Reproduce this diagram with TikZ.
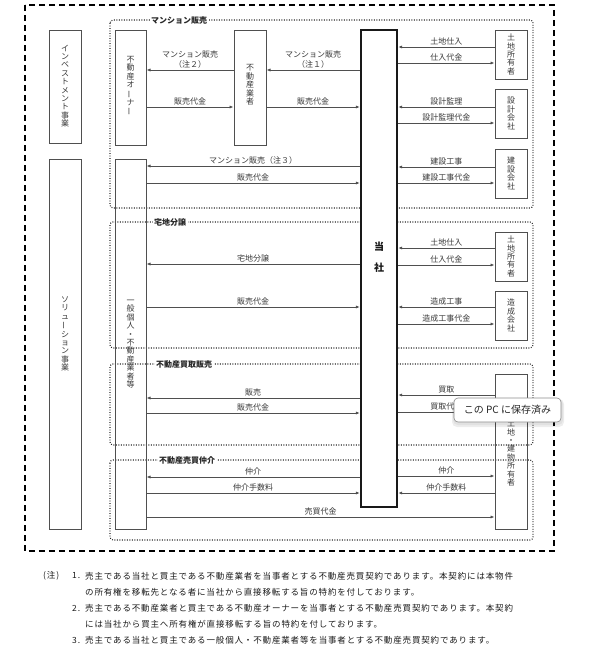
\documentclass[tikz,border=0pt]{standalone}
\usepackage{fontspec}
\usepackage{graphicx}
\setmainfont{Noto Sans CJK JP}
\newfontfamily\jpnote[LetterSpace=10]{Noto Sans CJK JP}
\usetikzlibrary{arrows.meta}
\definecolor{ln}{HTML}{4F4F4F}
\definecolor{tx}{HTML}{383838}
\newcommand{\vbar}{\rotatebox[origin=c]{90}{ー}}
\begin{document}
\begin{tikzpicture}[x=1pt,y=-1pt,
  box/.style={draw=ln, line width=1pt, inner sep=0pt},
  vlab/.style={text=tx, font=\fontsize{8}{8.4}\selectfont, align=center, inner sep=0pt},
  arr/.style={draw=ln, line width=0.9pt, -{Latex[length=4pt,width=3.2pt]}},
  lbl/.style={text=tx, font=\fontsize{8}{10}\selectfont, inner sep=1.2pt, align=center},
  region/.style={draw=black!85, line width=1.1pt, dash pattern=on 0.9pt off 1.6pt, rounded corners=3pt},
  rlab/.style={fill=white, text=black!85, font=\bfseries\fontsize{8}{9}\selectfont, inner sep=1.5pt},
  note/.style={text=black!90, font=\jpnote\fontsize{8.5}{10}\selectfont, inner sep=0pt, anchor=west}
]
\useasboundingbox (0,0) rectangle (609,654);

% outer dashed frame
\draw[line width=2pt, dash pattern=on 6pt off 4pt] (25,5) rectangle (554,551);

% regions
\draw[region] (110,20) rectangle (533,208);
\draw[region] (110,222) rectangle (533,348);
\draw[region] (110,364) rectangle (533,445);
\draw[region] (110,460) rectangle (533,540);
\node[rlab] (r1) at (179,20) {マンション販売};
\node[rlab] (r2) at (170,222) {宅地分譲};
\node[rlab] (r3) at (184,364) {不動産買取販売};
\node[rlab] (r4) at (187,460) {不動産売買仲介};

% left business boxes
\node[box, minimum width=32pt, minimum height=113pt] (inv) at (65,86.5) {};
\node[vlab] (invL) at (65,86) {イ\\ン\\ベ\\ス\\ト\\メ\\ン\\ト\\事\\業};
\node[box, minimum width=32pt, minimum height=370pt] (sol) at (65,344) {};
\node[vlab] (solL) at (65,334) {ソ\\リ\\ュ\\\vbar\\シ\\ョ\\ン\\事\\業};

% parties
\node[box, minimum width=31pt, minimum height=115pt] (owner) at (130.5,87.5) {};
\node[vlab] (ownerL) at (130.5,86) {不\\動\\産\\オ\\\vbar\\ナ\\\vbar};
\node[box, minimum width=32pt, minimum height=115pt] (dealer) at (250,87.5) {};
\node[vlab] (dealerL) at (250,85) {不\\動\\産\\業\\者};
\node[box, minimum width=31pt, minimum height=370pt] (ippan) at (130.5,344) {};
\node[vlab] (ippanL) at (130.5,344) {一\\般\\個\\人\\・\\不\\動\\産\\業\\者\\等};

\node[box, draw=black!90, fill=white, line width=2.4pt, minimum width=36pt, minimum height=477pt] (co) at (379,268.5) {};
\node[text=black!90, font=\bfseries\fontsize{10}{21}\selectfont, align=center, inner sep=0pt] (coL) at (379,257.5) {当\\社};

\node[box, minimum width=32pt, minimum height=49pt] (land1) at (511,54.5) {};
\node[vlab] (land1L) at (511,54.5) {土\\地\\所\\有\\者};
\node[box, minimum width=32pt, minimum height=49pt] (sekkei) at (511,113.5) {};
\node[vlab] (sekkeiL) at (511,113.5) {設\\計\\会\\社};
\node[box, minimum width=32pt, minimum height=49pt] (kensetsu) at (511,173.5) {};
\node[vlab] (kensetsuL) at (511,173.5) {建\\設\\会\\社};
\node[box, minimum width=32pt, minimum height=49pt] (land2) at (511,256.5) {};
\node[vlab] (land2L) at (511,256.5) {土\\地\\所\\有\\者};
\node[box, minimum width=32pt, minimum height=49pt] (zosei) at (511,315.5) {};
\node[vlab] (zoseiL) at (511,315.5) {造\\成\\会\\社};
\node[box, minimum width=32pt, minimum height=155pt] (ltb) at (511,451.5) {};
\node[vlab] (ltbL) at (511,453) {土\\地\\・\\建\\物\\所\\有\\者};

% mansion section arrows
\draw[arr] (co.west |- 0,70) -- node[lbl, above] {マンション販売\\（注１）} (dealer.east |- 0,70);
\draw[arr] (dealer.east |- 0,107) -- node[lbl, above] {販売代金} (co.west |- 0,107);
\draw[arr] (dealer.west |- 0,70) -- node[lbl, above] {マンション販売\\（注２）} (owner.east |- 0,70);
\draw[arr] (owner.east |- 0,107) -- node[lbl, above] {販売代金} (dealer.west |- 0,107);
\draw[arr] (co.west |- 0,166) -- node[lbl, above] {マンション販売（注３）} (ippan.east |- 0,166);
\draw[arr] (ippan.east |- 0,183) -- node[lbl, above] {販売代金} (co.west |- 0,183);

\draw[arr] (land1.west |- 0,47) -- node[lbl, above] {土地仕入} (co.east |- 0,47);
\draw[arr] (co.east |- 0,63) -- node[lbl, above] {仕入代金} (land1.west |- 0,63);
\draw[arr] (sekkei.west |- 0,107) -- node[lbl, above] {設計監理} (co.east |- 0,107);
\draw[arr] (co.east |- 0,123) -- node[lbl, above] {設計監理代金} (sekkei.west |- 0,123);
\draw[arr] (kensetsu.west |- 0,167) -- node[lbl, above] {建設工事} (co.east |- 0,167);
\draw[arr] (co.east |- 0,183) -- node[lbl, above] {建設工事代金} (kensetsu.west |- 0,183);

% takuchi section
\draw[arr] (co.west |- 0,264) -- node[lbl, above] {宅地分譲} (ippan.east |- 0,264);
\draw[arr] (ippan.east |- 0,307) -- node[lbl, above] {販売代金} (co.west |- 0,307);
\draw[arr] (land2.west |- 0,248) -- node[lbl, above] {土地仕入} (co.east |- 0,248);
\draw[arr] (co.east |- 0,265) -- node[lbl, above] {仕入代金} (land2.west |- 0,265);
\draw[arr] (zosei.west |- 0,307) -- node[lbl, above] {造成工事} (co.east |- 0,307);
\draw[arr] (co.east |- 0,324) -- node[lbl, above] {造成工事代金} (zosei.west |- 0,324);

% kaitori section
\draw[arr] (co.west |- 0,398) -- node[lbl, above] {販売} (ippan.east |- 0,398);
\draw[arr] (ippan.east |- 0,413) -- node[lbl, above] {販売代金} (co.west |- 0,413);
\draw[arr] (ltb.west |- 0,395) -- node[lbl, above] {買取} (co.east |- 0,395);
\draw[arr] (co.east |- 0,412) -- node[lbl, above] {買取代金} (ltb.west |- 0,412);

% chukai section
\draw[arr] (co.west |- 0,477) -- node[lbl, above] {仲介} (ippan.east |- 0,477);
\draw[arr] (ippan.east |- 0,493) -- node[lbl, above] {仲介手数料} (co.west |- 0,493);
\draw[arr] (co.east |- 0,476) -- node[lbl, above] {仲介} (ltb.west |- 0,476);
\draw[arr] (ltb.west |- 0,493) -- node[lbl, above] {仲介手数料} (co.east |- 0,493);
\draw[arr] (ippan.east |- 0,517) -- node[lbl, above] {売買代金} (ltb.west |- 0,517);

% notes
\node[note] (n0) at (43,576) {(注)};
\node[note] (n1a) at (72,576) {1.};
\node[note] (n1b) at (85,576) {売主である当社と買主である不動産業者を当事者とする不動産売買契約であります。本契約には本物件};
\node[note] (n1c) at (85,592) {の所有権を移転先となる者に当社から直接移転する旨の特約を付しております。};
\node[note] (n2a) at (72,608) {2.};
\node[note] (n2b) at (85,608) {売主である不動産業者と買主である不動産オーナーを当事者とする不動産売買契約であります。本契約};
\node[note] (n2c) at (85,624) {には当社から買主へ所有権が直接移転する旨の特約を付しております。};
\node[note] (n3a) at (72,640) {3.};
\node[note] (n3b) at (85,640) {売主である当社と買主である一般個人・不動産業者等を当事者とする不動産売買契約であります。};

% tooltip overlay
\fill[black, opacity=0.07, rounded corners=5pt] (452,399) rectangle (564,427);
\fill[black, opacity=0.05, rounded corners=5pt] (453,399) rectangle (563,425);
\node[draw=black!45, fill=white, rounded corners=4pt, line width=0.6pt, minimum width=107pt, minimum height=24pt, inner sep=0pt, text=black!85, font=\fontsize{10}{12}\selectfont] (tip) at (507.5,410) {この PC に保存済み};
\end{tikzpicture}
\end{document}
